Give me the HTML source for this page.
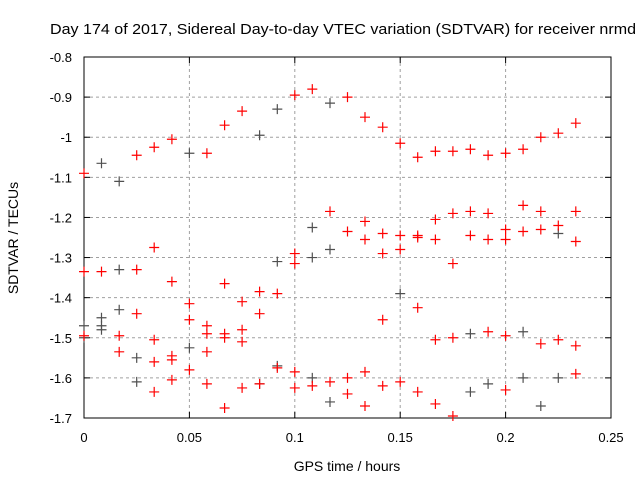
<!DOCTYPE html>
<html><head><meta charset="utf-8"><style>
body{margin:0;background:#fff}
svg text{font-family:"Liberation Sans",sans-serif;font-size:13px;fill:#000}
</style></head><body>
<svg id="chart" width="640" height="480" viewBox="0 0 640 480" xmlns="http://www.w3.org/2000/svg">
<rect width="640" height="480" fill="#fff"/>
<text x="50" y="34" style="font-size:15px" textLength="586" lengthAdjust="spacingAndGlyphs">Day 174 of 2017, Sidereal Day-to-day VTEC variation (SDTVAR) for receiver nrmd</text>
<text x="0" y="0" text-anchor="middle" style="font-size:14px" transform="translate(18,238) rotate(-90)">SDTVAR / TECUs</text>
<text x="347" y="471" text-anchor="middle" style="font-size:14px">GPS time / hours</text>
<g id="grid"></g>
<g id="axes"></g>
<g id="marks"></g>
</svg>
<script>
const xTicks=[0,0.05,0.1,0.15,0.2,0.25];
const xTickLabels=["0","0.05","0.1","0.15","0.2","0.25"];
const yTicks=[-0.8,-0.9,-1,-1.1,-1.2,-1.3,-1.4,-1.5,-1.6,-1.7];
const yTickLabels=["-0.8","-0.9","-1","-1.1","-1.2","-1.3","-1.4","-1.5","-1.6","-1.7"];
const redX=[0,0,0,0.0083,0.0167,0.0167,0.025,0.025,0.025,0.0333,0.0333,0.0333,0.0333,0.0333,0.0417,0.0417,0.0417,0.0417,0.0417,0.05,0.05,0.05,0.0583,0.0583,0.0583,0.0583,0.0583,0.0667,0.0667,0.0667,0.0667,0.0667,0.075,0.075,0.075,0.075,0.075,0.0833,0.0833,0.0833,0.0917,0.0917,0.1,0.1,0.1,0.1,0.1,0.1083,0.1083,0.1167,0.1167,0.125,0.125,0.125,0.125,0.1333,0.1333,0.1333,0.1333,0.1333,0.1417,0.1417,0.1417,0.1417,0.1417,0.15,0.15,0.15,0.15,0.1583,0.1583,0.1583,0.1583,0.1583,0.1667,0.1667,0.1667,0.1667,0.1667,0.175,0.175,0.175,0.175,0.175,0.1833,0.1833,0.1833,0.1917,0.1917,0.1917,0.1917,0.2,0.2,0.2,0.2,0.2,0.2083,0.2083,0.2083,0.2167,0.2167,0.2167,0.2167,0.225,0.225,0.225,0.2333,0.2333,0.2333,0.2333,0.2333];
const redY=[-1.09,-1.335,-1.495,-1.335,-1.495,-1.535,-1.045,-1.33,-1.44,-1.025,-1.275,-1.505,-1.56,-1.635,-1.005,-1.36,-1.545,-1.555,-1.605,-1.415,-1.455,-1.58,-1.04,-1.47,-1.49,-1.535,-1.615,-0.97,-1.365,-1.49,-1.5,-1.675,-0.935,-1.41,-1.48,-1.51,-1.625,-1.385,-1.44,-1.615,-1.39,-1.575,-0.895,-1.29,-1.315,-1.585,-1.625,-0.88,-1.62,-1.185,-1.61,-0.9,-1.235,-1.6,-1.64,-0.95,-1.21,-1.255,-1.585,-1.67,-0.975,-1.24,-1.29,-1.455,-1.62,-1.015,-1.245,-1.28,-1.61,-1.05,-1.245,-1.25,-1.425,-1.635,-1.035,-1.205,-1.255,-1.505,-1.665,-1.035,-1.19,-1.315,-1.5,-1.695,-1.03,-1.185,-1.245,-1.045,-1.19,-1.255,-1.485,-1.04,-1.23,-1.255,-1.495,-1.63,-1.03,-1.17,-1.235,-1.0,-1.185,-1.23,-1.515,-0.99,-1.22,-1.505,-0.965,-1.185,-1.26,-1.52,-1.59];
const grayX=[0.0083,0.0167,0.05,0.0833,0.0917,0.1167,0.1083,0.1083,0.1167,0.0917,0.15,0.0917,0.0833,0.1083,0.1167,0.0167,0.0167,0.0083,0.0083,0.0083,0,0,0.025,0.025,0.05,0.1833,0.2083,0.1833,0.1917,0.2083,0.2167,0.225,0.225];
const grayY=[-1.065,-1.11,-1.04,-0.995,-0.93,-0.915,-1.225,-1.3,-1.28,-1.31,-1.39,-1.57,-1.615,-1.6,-1.66,-1.33,-1.43,-1.45,-1.47,-1.48,-1.47,-1.5,-1.55,-1.61,-1.525,-1.49,-1.485,-1.635,-1.615,-1.6,-1.67,-1.6,-1.24];
const L=84,R=611,T=57,B=418;
const sx=v=>L+(v-0)/(0.25-0)*(R-L);
const sy=v=>T+(-0.8-v)/(0.9)*(B-T);
const NS="http://www.w3.org/2000/svg";
function mk(tag,attrs,parent){const e=document.createElementNS(NS,tag);for(const k in attrs)e.setAttribute(k,attrs[k]);parent.appendChild(e);return e;}
const grid=document.getElementById('grid'),axes=document.getElementById('axes'),marks=document.getElementById('marks');
xTicks.forEach((v,i)=>{const x=sx(v);
 if(i>0&&i<xTicks.length-1){const g=mk('line',{x1:x,x2:x,y1:T,y2:B,stroke:'#a0a0a0','stroke-dasharray':'3,3'},grid);
 
 }
 mk('line',{x1:x,x2:x,y1:B,y2:B-6,stroke:'#000'},axes);
 mk('line',{x1:x,x2:x,y1:T,y2:T+6,stroke:'#000'},axes);
 const t=mk('text',{x:x,y:B+24,'text-anchor':'middle'},axes);t.textContent=xTickLabels[i];
 
 
});
yTicks.forEach((v,i)=>{const y=sy(v);
 if(i>0&&i<yTicks.length-1){const g=mk('line',{x1:L,x2:R,y1:y,y2:y,stroke:'#a0a0a0','stroke-dasharray':'3,3'},grid);
 
 }
 mk('line',{x1:L,x2:L+6,y1:y,y2:y,stroke:'#000'},axes);
 mk('line',{x1:R,x2:R-6,y1:y,y2:y,stroke:'#000'},axes);
 const t=mk('text',{x:L-12,y:y+5,'text-anchor':'end'},axes);t.textContent=yTickLabels[i];
 
 
});
const fr=mk('rect',{x:L,y:T,width:R-L,height:B-T,fill:'none',stroke:'#000','stroke-width':1},axes);


function cross(x,y,col,name){const g=mk('path',{d:`M${x-5},${y}h10M${x},${y-5}v10`,stroke:col,'stroke-width':1.2,fill:'none'},marks);
 
 }
grayX.forEach((v,i)=>cross(sx(v),sy(grayY[i]),'#505050','gray-point'));
redX.forEach((v,i)=>cross(sx(v),sy(redY[i]),'#ff0000','red-point'));
</script>
</body></html>
